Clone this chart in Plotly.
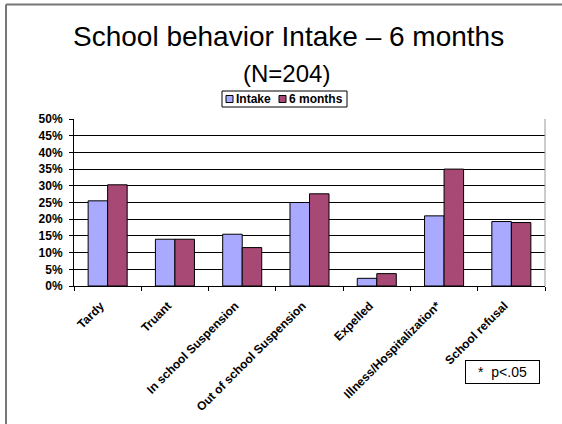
import plotly.graph_objects as go

categories = ["Tardy", "Truant", "In school Suspension", "Out of school Suspension",
              "Expelled", "Illness/Hospitalization*", "School refusal"]
intake = [25.5, 14.0, 15.5, 25.0, 2.3, 21.0, 19.3]
six_months = [30.3, 14.0, 11.5, 27.6, 3.7, 35.0, 19.0]
series_names = ["Intake", "6 months"]
series_colors = ["#A9AAFF", "#A84874"]
y_ticks = [0, 5, 10, 15, 20, 25, 30, 35, 40, 45, 50]
y_ticklabels = [f"{v}%" for v in y_ticks]

FONT = "Liberation Sans, Arial, sans-serif"
NBSP = "\u00a0"

fig = go.Figure()
for name, vals, col in zip(series_names, [intake, six_months], series_colors):
    fig.add_trace(go.Bar(name=name, x=categories, y=vals, showlegend=False,
                         marker=dict(color=col, line=dict(color="black", width=1))))

L, R, T, B = 74, 17, 119, 138
W, H = 562, 424
pw, ph = W - L - R, H - T - B

def px(x):
    return (x - L) / pw

def py(y):
    return (H - B - y) / ph

def rect(x0, y0, x1, y1, fill, lw=1, lc="black"):
    return dict(type="rect", xref="paper", yref="paper", x0=px(x0), x1=px(x1),
                y0=py(y0), y1=py(y1), fillcolor=fill, line=dict(color=lc, width=lw))

shapes = [
    dict(type="line", xref="paper", yref="paper", x0=1, x1=1, y0=0, y1=1,
         line=dict(color="#999999", width=1)),
    dict(type="line", xref="paper", yref="paper", x0=px(6), x1=px(600), y0=py(4.5), y1=py(4.5),
         line=dict(color="#777777", width=2)),
    dict(type="line", xref="paper", yref="paper", x0=px(6), x1=px(6), y0=py(4.5), y1=py(440),
         line=dict(color="#777777", width=2)),
    # legend box
    rect(222, 91, 347, 107, "white", 1),
    rect(226, 95.5, 233, 102.5, series_colors[0], 1),
    rect(279, 95.5, 286, 102.5, series_colors[1], 1),
]

annotations = [
    dict(text="School behavior Intake – 6 months", xref="paper", yref="paper",
         x=px(288), y=py(36), xanchor="center", yanchor="middle", showarrow=False,
         font=dict(size=28, family=FONT)),
    dict(text="(N=204)", xref="paper", yref="paper",
         x=px(286), y=py(73), xanchor="center", yanchor="middle", showarrow=False,
         font=dict(size=24, family=FONT)),
    dict(text=f"<b>{series_names[0]}</b>", xref="paper", yref="paper",
         x=px(234), y=py(99.5), xanchor="left", yanchor="middle", showarrow=False,
         font=dict(size=12, family=FONT)),
    dict(text=f"<b>{series_names[1]}</b>", xref="paper", yref="paper",
         x=px(287), y=py(99.5), xanchor="left", yanchor="middle", showarrow=False,
         font=dict(size=12, family=FONT)),
    dict(text="*  p<.05", xref="paper", yref="paper",
         x=px(502.5), y=py(372), xanchor="center", yanchor="middle", showarrow=False,
         font=dict(size=14, family=FONT), bordercolor="black", borderwidth=1,
         width=71, height=20, bgcolor="white"),
]

fig.update_layout(
    width=W, height=H,
    margin=dict(l=L, r=R, t=T, b=B, autoexpand=False),
    paper_bgcolor="white", plot_bgcolor="white",
    barmode="group", bargap=0.42, bargroupgap=0,
    font=dict(family=FONT, color="black"),
    showlegend=False,
    xaxis=dict(showline=True, linecolor="black", linewidth=1, ticks="outside",
               tickson="boundaries", ticklen=4, tickcolor="black", tickangle=-45,
               tickfont=dict(size=12, family=FONT), tickprefix="<b>",
               ticksuffix="</b>" + NBSP * 3, showgrid=False),
    yaxis=dict(range=[0, 50], tickvals=y_ticks, ticktext=[f"<b>{t}</b>" for t in y_ticklabels],
               showline=True, linecolor="black", linewidth=1, ticks="outside", ticklen=4,
               tickcolor="black", tickfont=dict(size=12, family=FONT), showgrid=False,
               zeroline=False, ticklabelstandoff=4,
               minor=dict(tickvals=y_ticks[1:-1], showgrid=True, gridcolor="black",
                          gridwidth=1, ticks="")),
    shapes=shapes,
    annotations=annotations,
)

fig.write_html("out.html", config={"displayModeBar": False},
               post_script="document.body.style.margin='0px';")
